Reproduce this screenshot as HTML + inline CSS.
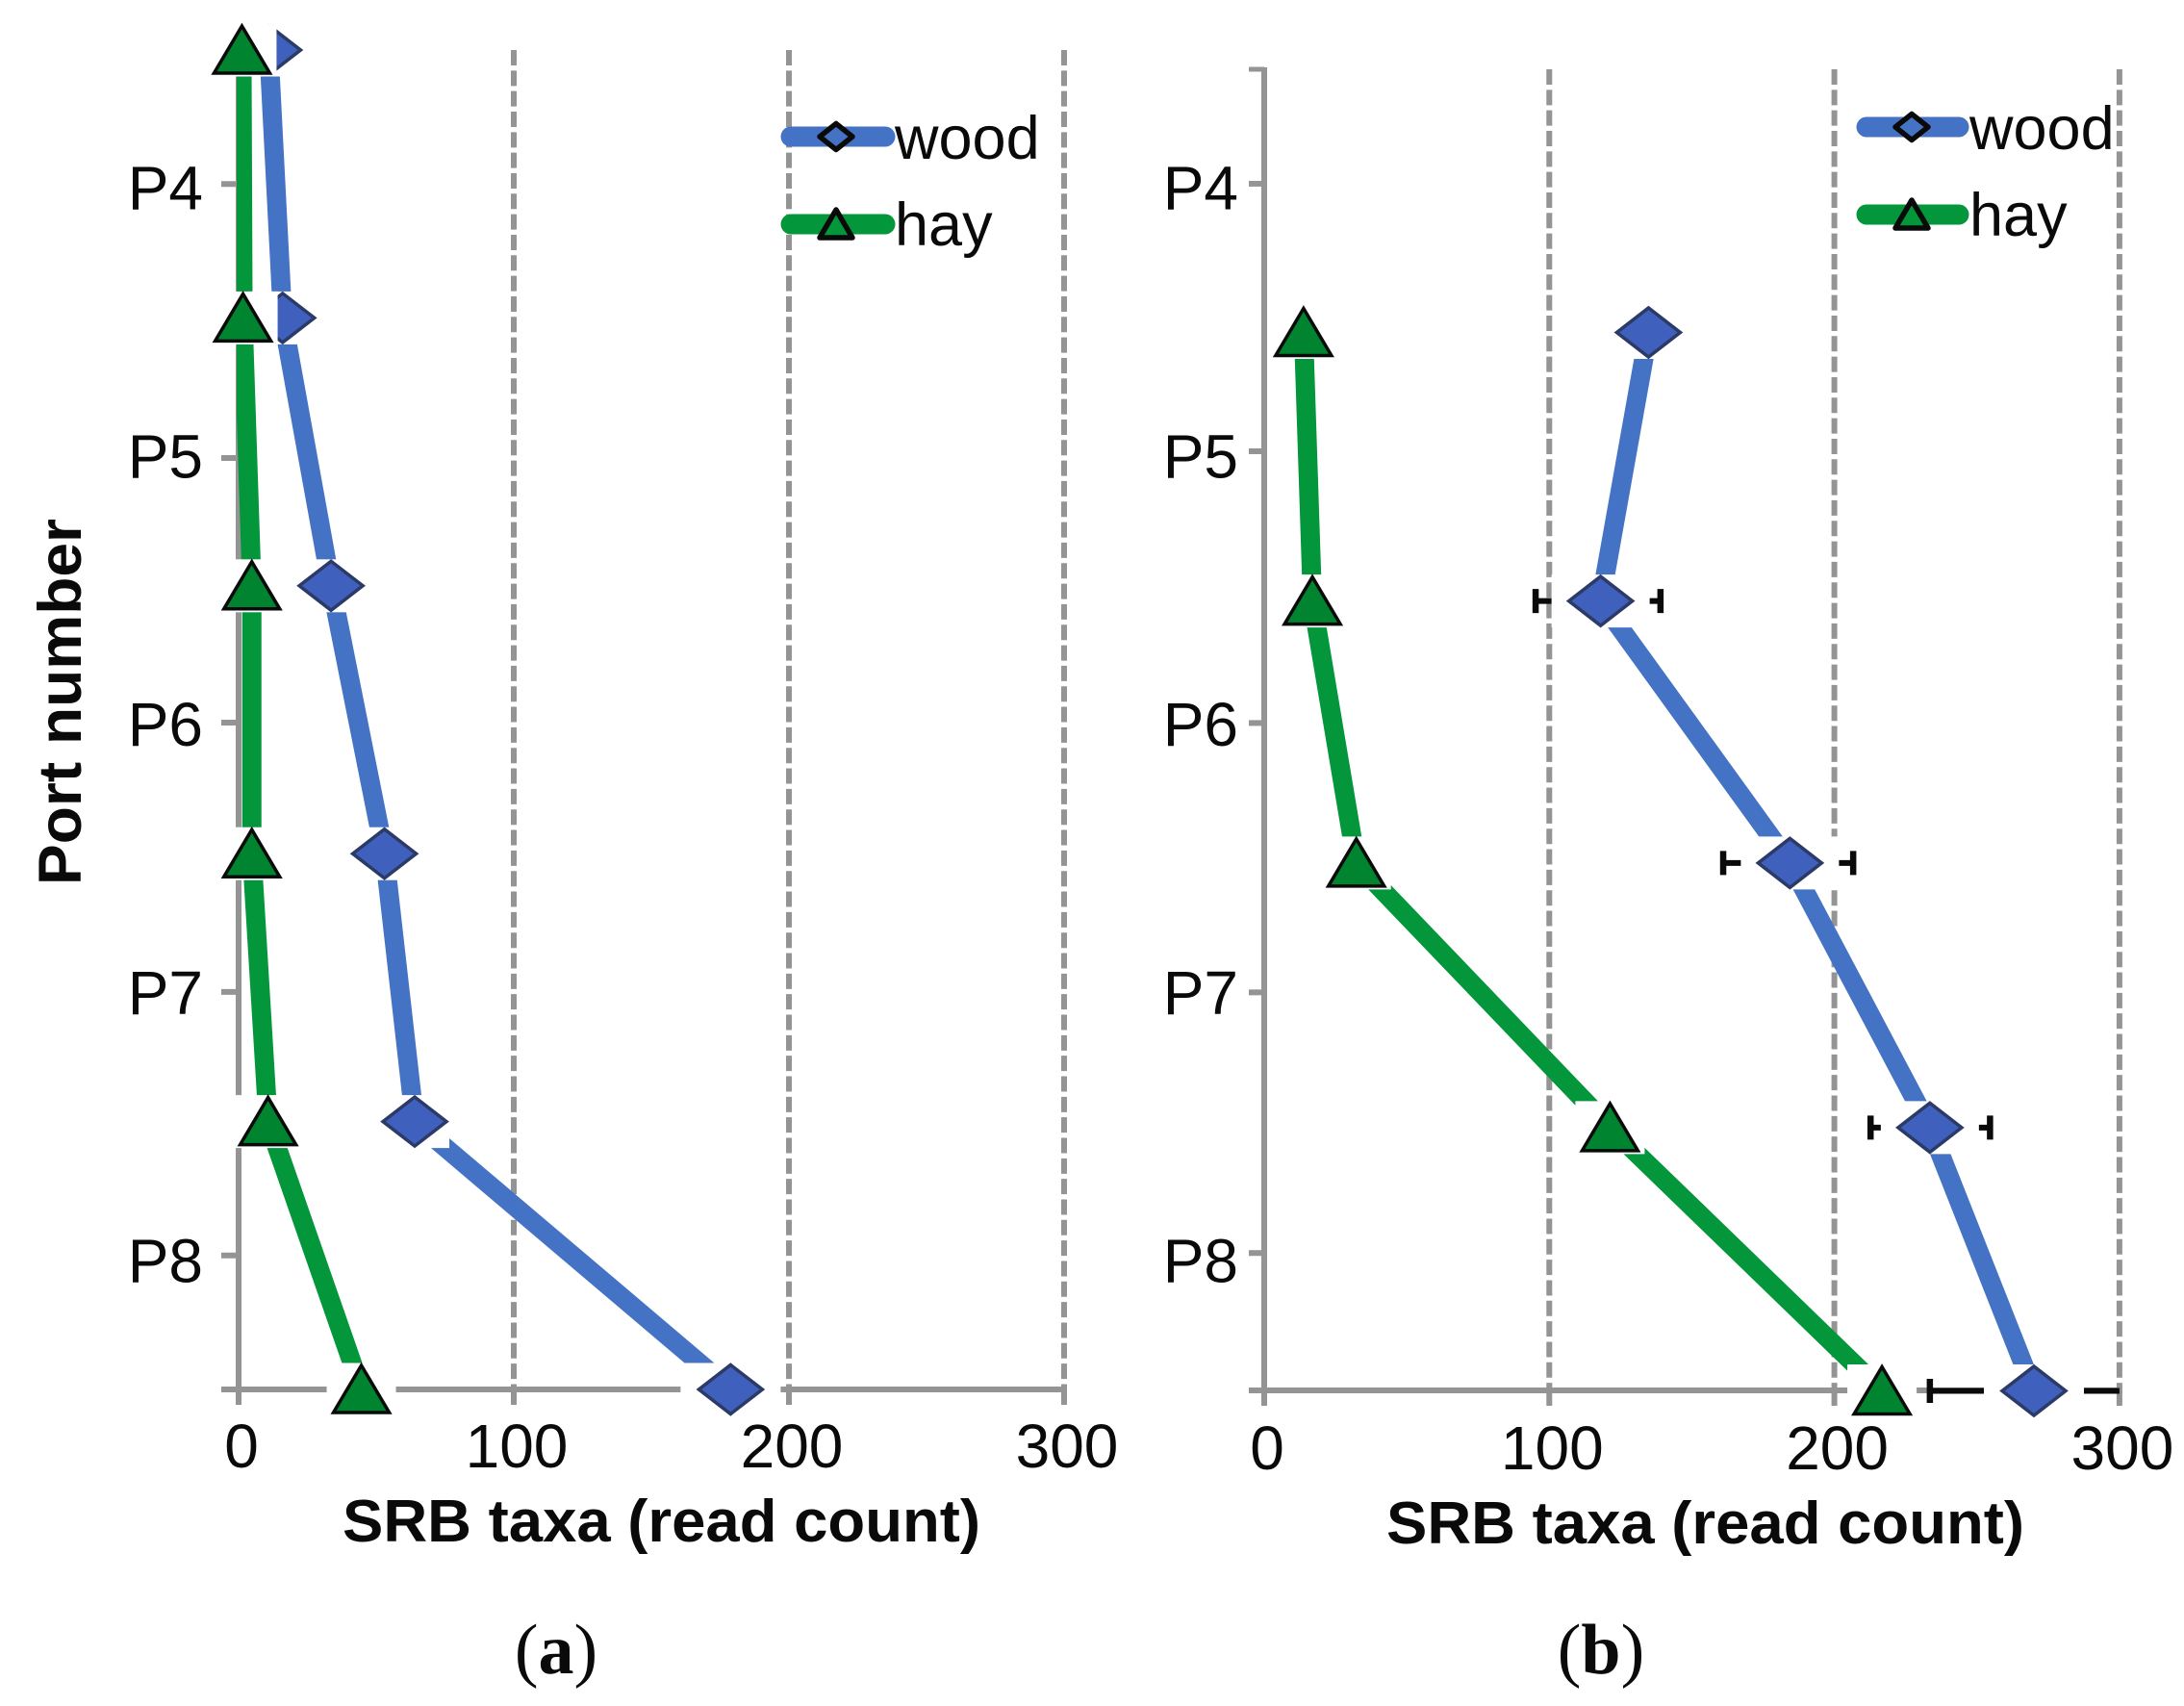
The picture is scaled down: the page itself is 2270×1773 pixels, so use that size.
<!DOCTYPE html>
<html lang="en">
<head>
<meta charset="utf-8">
<title>SRB taxa read count by port number</title>
<style>
html,body{margin:0;padding:0;background:#fff;}
svg{display:block;}
text{font-family:"Liberation Sans",sans-serif;fill:#0a0a0a;}
</style>
</head>
<body>
<svg id="chart" xmlns="http://www.w3.org/2000/svg" width="2270" height="1773" viewBox="0 0 2270 1773">
<rect x="0" y="0" width="2270" height="1773" fill="#fff"/>
</svg>
<script>
// ---- data ----
const portLabels = ['P4', 'P5', 'P6', 'P7', 'P8'];
const xTickValues = [0, 100, 200, 300];
const axisTitleX = 'SRB taxa (read count)';
const axisTitleY = 'Port number';

// Panel (a): read counts at successive sampling depths
const woodA = [11, 16, 33.6, 53, 64, 178.8];
const hayA = [1.2, 1.6, 4.8, 4.8, 10.7, 44.6];
const depthsA = [0, 1, 2, 3, 4, 5];
const portTickDepthsA = [0.5, 1.523, 2.511, 3.516, 4.5];

// Panel (b)
const woodB = [134.8, 118, 184.4, 233.5, 270];
const hayB = [13.8, 16.9, 32.3, 121.3, 216.7];
const depthsB = [1, 2.015, 3.005, 4.005, 5];
const portTickDepthsB = [0.438, 1.449, 2.476, 3.494, 4.479];
const errLowB = [null, 95.2, 161, 212.7, 233.5];
const errHighB = [null, 139, 206.6, 254.6, 300];

// ---- drawing ----
const NS = 'http://www.w3.org/2000/svg';
const svg = document.getElementById('chart');
const GREY = '#949494', BLUE = '#4472c4', GREEN = '#03963a';
const DIAMOND = '#3f60bd', TRI = '#00842f';

function make(parent, tag, attrs, txt) {
  const el = document.createElementNS(NS, tag);
  for (const k in attrs) el.setAttribute(k, attrs[k]);
  if (txt !== undefined) el.textContent = txt;
  parent.appendChild(el);
  return el;
}

function drawPanel(p) {
  const xOf = v => p.x0 + v * p.xUnit;
  const yOf = d => p.y0 + d * p.yUnit;
  const g = make(svg, 'g', {});
  
  

  const clip = make(g, 'clipPath', {id: p.id + '-hay-clip'});
  make(clip, 'rect', {x: p.x0 - 2, y: 0, width: 1200, height: 1773});

  // gridlines
  xTickValues.slice(1).forEach(v => {
    const el = make(g, 'line', {x1: xOf(v), x2: xOf(v), y1: p.gridTop, y2: p.axisY, stroke: GREY, 'stroke-width': 6, 'stroke-dasharray': '16 5.33'});
    
    
  });

  // axes
  const yAxis = make(g, 'line', {x1: p.x0, x2: p.x0, y1: p.axisTop, y2: p.axisY + 3, stroke: GREY, 'stroke-width': 6});
  
  
  const xAxis = make(g, 'line', {x1: p.x0 - p.tickLen, x2: xOf(300) + 3, y1: p.axisY, y2: p.axisY, stroke: GREY, 'stroke-width': 6});
  
  

  // x ticks and labels
  xTickValues.forEach(v => {
    const t = make(g, 'line', {x1: xOf(v), x2: xOf(v), y1: p.axisY, y2: p.axisY + 16, stroke: GREY, 'stroke-width': 6});
    
    
    const l = make(g, 'text', {x: xOf(v) + 3, y: p.xLabelY, 'text-anchor': 'middle', 'font-size': 64}, String(v));
    
    
  });

  // y ticks and labels
  if (p.topTick) {
    const t = make(g, 'line', {x1: p.x0 - p.tickLen, x2: p.x0, y1: p.axisTop + 2, y2: p.axisTop + 2, stroke: GREY, 'stroke-width': 5});
    
    
  }
  portLabels.forEach((name, i) => {
    const ty = yOf(p.portDepths[i]);
    const t = make(g, 'line', {x1: p.x0 - p.tickLen, x2: p.x0, y1: ty, y2: ty, stroke: GREY, 'stroke-width': 6});
    
    
    const l = make(g, 'text', {x: p.yLabelX, y: 217.5 + i * 278.75, 'text-anchor': 'end', 'font-size': 64}, name);
    
    
  });

  // series lines
  const pts = arr => arr.map((v, i) => xOf(v) + ',' + yOf(p.depths[i])).join(' ');
  const wl = make(g, 'polyline', {points: pts(p.wood), fill: 'none', stroke: BLUE, 'stroke-width': 20});
  
  
  const hl = make(g, 'polyline', {points: pts(p.hay), fill: 'none', stroke: GREEN, 'stroke-width': 20, 'clip-path': 'url(#' + p.id + '-hay-clip)'});
  
  

  // error bars
  if (p.errLow) {
    p.errLow.forEach((lo, i) => {
      if (lo === null) return;
      const hi = p.errHigh[i];
      const y = yOf(p.depths[i]);
      const bar = make(g, 'line', {x1: xOf(lo), x2: xOf(hi), y1: y, y2: y, stroke: '#0a0a0a', 'stroke-width': 6});
      
      
      const c1 = make(g, 'line', {x1: xOf(lo), x2: xOf(lo), y1: y - 12.5, y2: y + 12.5, stroke: '#0a0a0a', 'stroke-width': 6.5});
      
      
      if (hi < 300) {
        const c2 = make(g, 'line', {x1: xOf(hi), x2: xOf(hi), y1: y - 12.5, y2: y + 12.5, stroke: '#0a0a0a', 'stroke-width': 6.5});
        
        
      }
    });
  }

  // wood markers with white halo
  p.wood.forEach((v, i) => {
    const cx = xOf(v), cy = yOf(p.depths[i]);
    const hw = (i === p.wood.length - 1) ? 52 : p.woodHalo;
    const h = make(g, 'rect', {x: cx - hw, y: cy - 27.5, width: 2 * hw, height: 55, fill: '#fff'});
    
    
    const m = make(g, 'polygon', {points: [cx - 33, cy, cx, cy - 25.5, cx + 33, cy, cx, cy + 25.5].join(' '), fill: DIAMOND, stroke: '#2b3a66', 'stroke-width': 3.5});
    
    
  });

  // hay markers with white halo
  p.hay.forEach((v, i) => {
    const cx = xOf(v), cy = yOf(p.depths[i]);
    const h = make(g, 'rect', {x: cx - 36, y: cy - 27.5, width: 72, height: 55, fill: '#fff'});
    
    
    const m = make(g, 'polygon', {points: [cx - 29, cy + 24, cx, cy - 25, cx + 29, cy + 24].join(' '), fill: TRI, stroke: '#0a0a0a', 'stroke-width': 3.5, 'stroke-linejoin': 'miter'});
    
    
  });

  // axis titles
  const xt = make(g, 'text', {x: p.xTitleX, y: p.xTitleY, 'font-size': 62, 'font-weight': 'bold', textLength: 663, lengthAdjust: 'spacingAndGlyphs'}, axisTitleX);
  
  
  if (p.showYTitle) {
    const yt = make(g, 'text', {transform: 'translate(84 920) rotate(-90)', x: 0, y: 0, 'font-size': 63, 'font-weight': 'bold', textLength: 381, lengthAdjust: 'spacingAndGlyphs'}, axisTitleY);
    
    
  }

  // legend
  const lg = make(g, 'g', {});
  
  
  const L = p.legend;
  const wLine = make(lg, 'line', {x1: L.x1, x2: L.x2, y1: L.woodY, y2: L.woodY, stroke: BLUE, 'stroke-width': 21, 'stroke-linecap': 'round'});
  
  
  const mx = L.mx;
  const wMark = make(lg, 'polygon', {points: [mx - 17, L.woodY, mx, L.woodY - 13.5, mx + 17, L.woodY, mx, L.woodY + 13.5].join(' '), fill: BLUE, stroke: '#0a0a0a', 'stroke-width': 5.5, 'stroke-linejoin': 'round'});
  
  
  const wText = make(lg, 'text', {x: L.tx, y: L.woodY + 23, 'font-size': 63}, 'wood');
  
  
  const hLine = make(lg, 'line', {x1: L.x1, x2: L.x2, y1: L.hayY, y2: L.hayY, stroke: GREEN, 'stroke-width': 21, 'stroke-linecap': 'round'});
  
  
  const hMark = make(lg, 'polygon', {points: [mx - 17, L.hayY + 14, mx, L.hayY - 15, mx + 17, L.hayY + 14].join(' '), fill: GREEN, stroke: '#0a0a0a', 'stroke-width': 5.5, 'stroke-linejoin': 'round'});
  
  
  const hText = make(lg, 'text', {x: L.tx, y: L.hayY + 22, 'font-size': 63}, 'hay');
  
  

  // caption
  const cap = make(g, 'text', {x: p.capX, y: 1739, 'text-anchor': 'middle', 'font-size': 74, style: 'font-family:"Liberation Serif",serif'});
  
  
  make(cap, 'tspan', {}, '(');
  make(cap, 'tspan', {'font-weight': 'bold'}, p.capLetter);
  make(cap, 'tspan', {}, ')');
}

drawPanel({
  id: 'panel-a', x0: 248, xUnit: 2.86, y0: 52, yUnit: 278.4,
  gridTop: 52, axisTop: 52, axisY: 1444, tickLen: 18, topTick: false,
  xLabelY: 1525, yLabelX: 211, xTitleX: 356, xTitleY: 1602, showYTitle: true,
  wood: woodA, hay: hayA, depths: depthsA, portDepths: portTickDepthsA,
  woodHalo: 36,
  legend: {x1: 822, x2: 920, woodY: 142, hayY: 233, mx: 869, tx: 930},
  capX: 578, capLetter: 'a'
});

drawPanel({
  id: 'panel-b', x0: 1314, xUnit: 2.963, y0: 70.5, yUnit: 275,
  gridTop: 72, axisTop: 70, axisY: 1445, tickLen: 16, topTick: true,
  xLabelY: 1527, yLabelX: 1287, xTitleX: 1441, xTitleY: 1604, showYTitle: false,
  wood: woodB, hay: hayB, depths: depthsB, portDepths: portTickDepthsB,
  errLow: errLowB, errHigh: errHighB,
  woodHalo: 51,
  legend: {x1: 1940, x2: 2036, woodY: 132, hayY: 223, mx: 1987, tx: 2047},
  capX: 1664, capLetter: 'b'
});
</script>
</body>
</html>
